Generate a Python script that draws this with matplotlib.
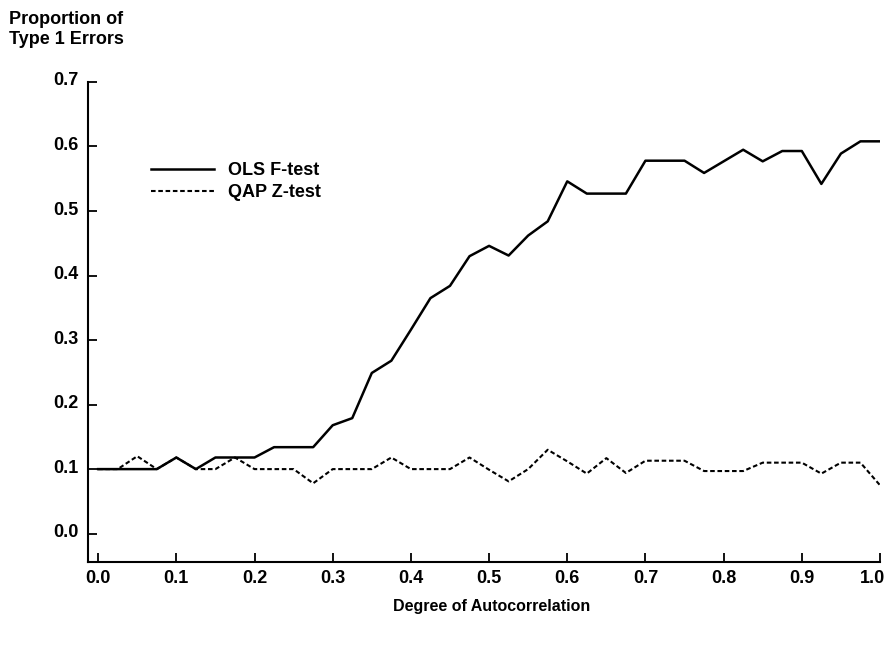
import matplotlib
matplotlib.use("Agg")
import matplotlib.pyplot as plt
from matplotlib.transforms import ScaledTranslation

# degree of autocorrelation (steps of 0.025)
rho = [0.000, 0.025, 0.050, 0.075, 0.100, 0.125, 0.150, 0.175, 0.200, 0.225,
       0.250, 0.275, 0.300, 0.325, 0.350, 0.375, 0.400, 0.425, 0.450, 0.475,
       0.500, 0.525, 0.550, 0.575, 0.600, 0.625, 0.650, 0.675, 0.700, 0.725,
       0.750, 0.775, 0.800, 0.825, 0.850, 0.875, 0.900, 0.925, 0.950, 0.975,
       1.000]

ols_f = [0.100, 0.100, 0.100, 0.100, 0.118, 0.100, 0.118, 0.118, 0.118, 0.134,
         0.134, 0.134, 0.168, 0.179, 0.249, 0.268, 0.316, 0.365, 0.384, 0.430,
         0.446, 0.431, 0.462, 0.484, 0.546, 0.527, 0.527, 0.527, 0.578, 0.578,
         0.578, 0.559, 0.577, 0.595, 0.577, 0.593, 0.593, 0.542, 0.589, 0.608,
         0.608]

qap_z = [0.100, 0.100, 0.120, 0.100, 0.118, 0.100, 0.100, 0.118, 0.100, 0.100,
         0.100, 0.078, 0.100, 0.100, 0.100, 0.118, 0.100, 0.100, 0.100, 0.118,
         0.099, 0.081, 0.100, 0.130, 0.112, 0.093, 0.117, 0.094, 0.113, 0.113,
         0.113, 0.097, 0.097, 0.097, 0.110, 0.110, 0.110, 0.093, 0.110, 0.110,
         0.075]

x_ticks = [0.0, 0.1, 0.2, 0.3, 0.4, 0.5, 0.6, 0.7, 0.8, 0.9, 1.0]
x_labels = ["0.0", "0.1", "0.2", "0.3", "0.4", "0.5", "0.6", "0.7", "0.8", "0.9", "1.0"]
y_ticks = [0.0, 0.1, 0.2, 0.3, 0.4, 0.5, 0.6, 0.7]
y_labels = ["0.0", "0.1", "0.2", "0.3", "0.4", "0.5", "0.6", "0.7"]

plt.rcParams["font.family"] = ["Liberation Sans", "DejaVu Sans"]
plt.rcParams["font.weight"] = "bold"

fig = plt.figure(figsize=(8.87, 6.46), dpi=100)
ax = fig.add_axes([0.0992, 0.1300, 0.8929, 0.7431])

ax.plot(rho, ols_f, color="black", lw=1.8, label="OLS F-test")
ax.plot(rho, qap_z, color="black", lw=1.5, linestyle=(0, (2.2, 1.3)), label="QAP Z-test")

ax.set_xlim(-0.013, 1.0)
ax.set_ylim(-0.044, 0.7)

ax.spines["top"].set_visible(False)
ax.spines["right"].set_visible(False)
ax.spines["left"].set_linewidth(1.5)
ax.spines["bottom"].set_linewidth(1.5)

ax.set_xticks(x_ticks)
ax.set_xticklabels(x_labels, fontsize=13, fontweight="bold")
ax.set_yticks(y_ticks)
ax.set_yticklabels(y_labels, fontsize=13, fontweight="bold")
ax.tick_params(axis="both", direction="in", length=6.5, width=1.3)
ax.tick_params(axis="x", pad=6)
ax.tick_params(axis="y", pad=7)

# y labels sit a little above their ticks, last x label pulled inside
for lab in ax.get_yticklabels():
    lab.set_transform(lab.get_transform() + ScaledTranslation(0, 3 / 100, fig.dpi_scale_trans))
last = ax.get_xticklabels()[-1]
last.set_transform(last.get_transform() + ScaledTranslation(-7 / 100, 0, fig.dpi_scale_trans))

leg = ax.legend(loc="upper left", bbox_to_anchor=(151 / 887, 1 - 162 / 646),
                bbox_transform=fig.transFigure, frameon=False, fontsize=13,
                handlelength=3.5, handletextpad=0.75, labelspacing=0.3,
                borderpad=0, borderaxespad=0)
for t in leg.get_texts():
    t.set_fontweight("bold")

fig.text(9 / 887, 1 - 20 / 646, "Proportion of", fontsize=13, fontweight="bold",
         ha="left", va="center")
fig.text(9 / 887, 1 - 40 / 646, "Type 1 Errors", fontsize=13, fontweight="bold",
         ha="left", va="center")
fig.text(492 / 887, 1 - 607 / 646, "Degree of Autocorrelation", fontsize=11.5,
         fontweight="bold", ha="center", va="center")

fig.savefig("out.png", dpi=100)
